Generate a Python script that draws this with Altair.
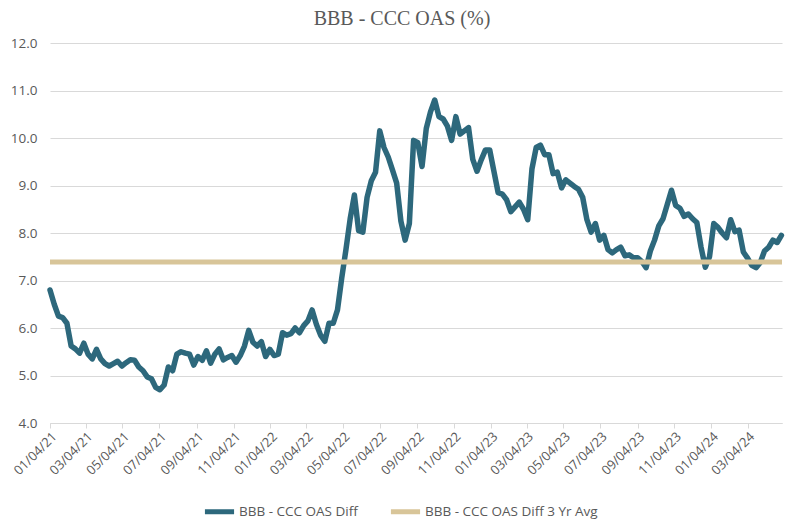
import altair as alt
import pandas as pd

# Weekly readings of the BBB - CCC OAS difference (%), starting 2021-01-04
diff_values = [
    6.80, 6.50, 6.25, 6.22, 6.10, 5.62, 5.56, 5.47, 5.68, 5.45,
    5.35, 5.55, 5.35, 5.25, 5.20, 5.25, 5.30, 5.20, 5.27, 5.33,
    5.32, 5.18, 5.10, 4.97, 4.93, 4.75, 4.70, 4.80, 5.18, 5.10,
    5.45, 5.50, 5.47, 5.45, 5.22, 5.40, 5.32, 5.52, 5.26, 5.45,
    5.56, 5.33, 5.38, 5.42, 5.28, 5.42, 5.62, 5.95, 5.70, 5.62,
    5.71, 5.40, 5.55, 5.42, 5.45, 5.90, 5.85, 5.88, 6.00, 5.90,
    6.05, 6.15, 6.38, 6.08, 5.85, 5.72, 6.10, 6.10, 6.38, 7.05,
    7.65, 8.30, 8.80, 8.05, 8.02, 8.75, 9.10, 9.28, 10.15, 9.80,
    9.60, 9.33, 9.05, 8.25, 7.85, 8.20, 9.95, 9.90, 9.40, 10.20,
    10.55, 10.80, 10.45, 10.40, 10.25, 9.95, 10.45, 10.08, 10.15, 10.22,
    9.55, 9.30, 9.54, 9.75, 9.75, 9.30, 8.85, 8.82, 8.70, 8.45,
    8.55, 8.65, 8.50, 8.28, 9.35, 9.80, 9.85, 9.65, 9.65, 9.25,
    9.28, 8.95, 9.12, 9.05, 8.98, 8.92, 8.75, 8.28, 8.02, 8.20,
    7.85, 7.95, 7.65, 7.58, 7.65, 7.70, 7.52, 7.54, 7.48, 7.48,
    7.40, 7.27, 7.62, 7.85, 8.15, 8.30, 8.60, 8.90, 8.58, 8.52,
    8.35, 8.40, 8.30, 8.22, 7.70, 7.28, 7.50, 8.20, 8.12, 8.00,
    7.90, 8.28, 8.03, 8.06, 7.60, 7.47, 7.32, 7.27, 7.38, 7.62,
    7.70, 7.85, 7.80, 7.95,
]
avg_value = 7.39
start_date = "2021-01-04"
end_date = "2024-04-30"
tick_dates = [
    "2021-01-04", "2021-03-04", "2021-05-04", "2021-07-04", "2021-09-04",
    "2021-11-04", "2022-01-04", "2022-03-04", "2022-05-04", "2022-07-04",
    "2022-09-04", "2022-11-04", "2023-01-04", "2023-03-04", "2023-05-04",
    "2023-07-04", "2023-09-04", "2023-11-04", "2024-01-04", "2024-03-04",
]
y_ticks = [4, 5, 6, 7, 8, 9, 10, 11, 12]
series_names = ["BBB - CCC OAS Diff", "BBB - CCC OAS Diff 3 Yr Avg"]
colors = ["#2D687C", "#D8C599"]


def dt(s):
    y, m, d = (int(p) for p in s.split("-"))
    return alt.DateTime(year=y, month=m, date=d, utc=True)


dates = pd.date_range(start_date, periods=len(diff_values), freq="7D").strftime("%Y-%m-%d")
diff_df = pd.DataFrame({"date": list(dates), "value": diff_values, "series": series_names[0]})
avg_df = pd.DataFrame({"date": [start_date, end_date], "value": [avg_value, avg_value],
                       "series": series_names[1]})

x_enc = alt.X(
    "date:T",
    scale=alt.Scale(type="utc", domain=[dt(start_date), dt(end_date)]),
    axis=alt.Axis(
        values=[dt(s) for s in tick_dates],
        format="%m/%d/%y",
        labelAngle=-45,
        labelAlign="right",
        labelBaseline="top",
        labelOverlap=False,
        grid=False,
        domainColor="#D9D9D9",
        tickColor="#D9D9D9",
        tickSize=5,
        labelFontSize=13,
        labelPadding=2,
        title=None,
    ),
)
y_enc = alt.Y(
    "value:Q",
    scale=alt.Scale(domain=[4, 12], nice=False, zero=False),
    axis=alt.Axis(
        values=y_ticks,
        format=".1f",
        domain=False,
        ticks=False,
        grid=True,
        gridColor="#D9D9D9",
        labelPadding=13,
        labelFontSize=13.5,
        title=None,
    ),
)
color_enc = alt.Color(
    "series:N",
    scale=alt.Scale(domain=series_names, range=colors),
    legend=alt.Legend(
        title=None,
        orient="none",
        legendX=152,
        legendY=451,
        direction="horizontal",
        symbolType="stroke",
        symbolStrokeWidth=5,
        symbolSize=850,
        labelFontSize=13.5,
        labelColor="#595959",
        labelFont="Open Sans",
        labelLimit=0,
        columnPadding=22,
        labelOffset=2,
    ),
)

diff_line = alt.Chart(diff_df).mark_line(strokeWidth=5.5, strokeJoin="round", strokeCap="round").encode(
    x=x_enc, y=y_enc, color=color_enc
)
avg_line = alt.Chart(avg_df).mark_line(strokeWidth=5).encode(
    x=x_enc, y=y_enc, color=color_enc
)

chart = (
    alt.layer(diff_line, avg_line)
    .properties(
        width=732,
        height=380,
        autosize=alt.AutoSizeParams(type="none"),
        padding={"left": 42, "top": 35, "right": 10, "bottom": 105},
        title=alt.TitleParams(
            "BBB - CCC OAS (%)",
            font="Liberation Serif",
            fontSize=20,
            fontWeight="normal",
            color="#595959",
            anchor="middle",
            dx=-14,
            offset=7,
        ),
    )
    .configure_view(stroke=None)
    .configure_axis(labelFont="Open Sans", labelColor="#595959")
)

chart.save("out.html", embed_options={"renderer": "svg", "actions": False})
